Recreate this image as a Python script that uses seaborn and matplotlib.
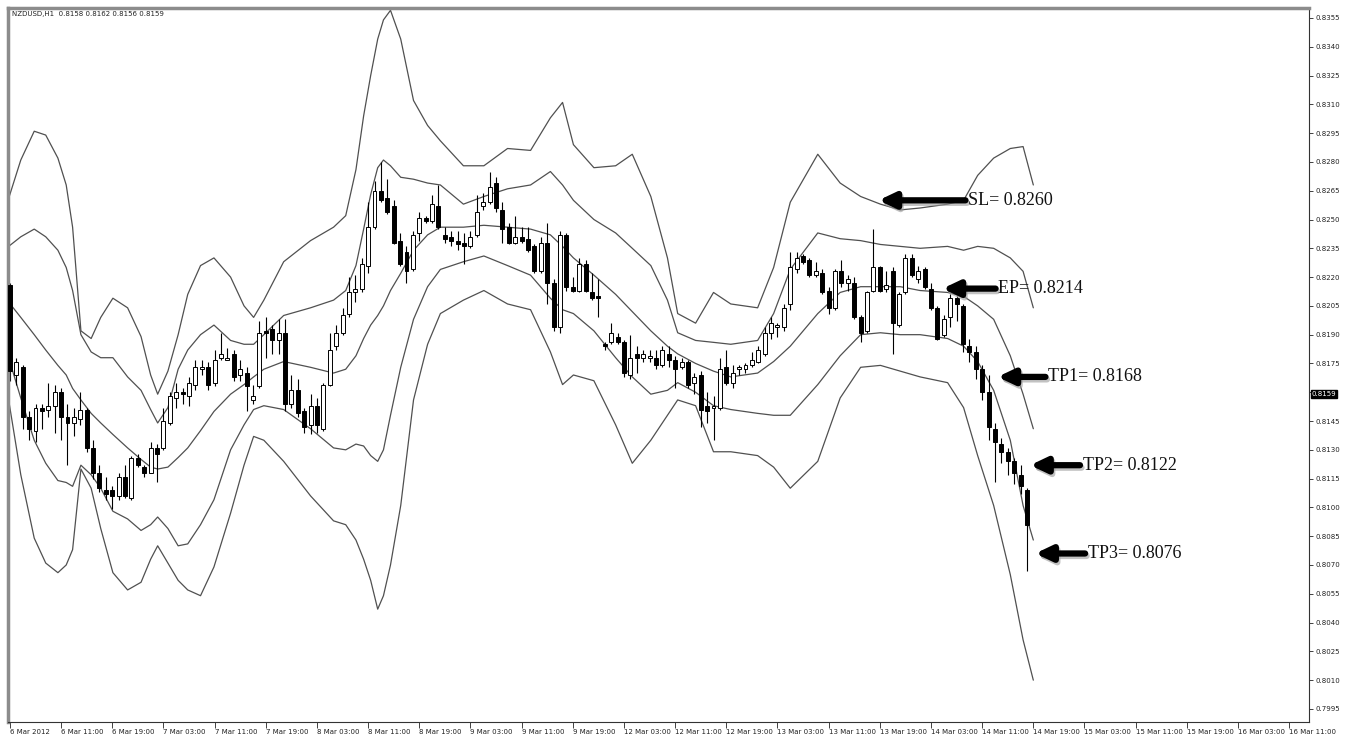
import matplotlib
matplotlib.use("Agg")
import matplotlib.pyplot as plt
import matplotlib.transforms as mtransforms
import numpy as np
import pandas as pd
import seaborn as sns

sns.set_theme(style="white")
plt.rcParams["font.family"] = ["DejaVu Sans"]

symbol_title = "NZDUSD,H1  0.8158 0.8162 0.8156 0.8159"
last_price = 0.8159

# one label every 8 hourly bars, starting at bar 0
time_labels = [
    "6 Mar 2012", "6 Mar 11:00", "6 Mar 19:00", "7 Mar 03:00", "7 Mar 11:00",
    "7 Mar 19:00", "8 Mar 03:00", "8 Mar 11:00", "8 Mar 19:00", "9 Mar 03:00",
    "9 Mar 11:00", "9 Mar 19:00", "12 Mar 03:00", "12 Mar 11:00", "12 Mar 19:00",
    "13 Mar 03:00", "13 Mar 11:00", "13 Mar 19:00", "14 Mar 03:00", "14 Mar 11:00",
    "14 Mar 19:00", "15 Mar 03:00", "15 Mar 11:00", "15 Mar 19:00", "16 Mar 03:00",
    "16 Mar 11:00",
]

opens = [
    0.8216, 0.8169, 0.8173, 0.8147, 0.8140, 0.8152, 0.8151, 0.8153, 0.8160, 0.8147,
    0.8144, 0.8146, 0.8151, 0.8131, 0.8118, 0.8109, 0.8109, 0.8106, 0.8116, 0.8105,
    0.8126, 0.8121, 0.8118, 0.8131, 0.8131, 0.8144, 0.8157, 0.8160, 0.8158, 0.8164,
    0.8172, 0.8173, 0.8165, 0.8178, 0.8177, 0.8180, 0.8169, 0.8170, 0.8156, 0.8163,
    0.8192, 0.8193, 0.8187, 0.8191, 0.8154, 0.8161, 0.8150, 0.8143, 0.8153, 0.8141,
    0.8164, 0.8184, 0.8191, 0.8201, 0.8212, 0.8214, 0.8226, 0.8246, 0.8265, 0.8261,
    0.8257, 0.8239, 0.8233, 0.8224, 0.8243, 0.8251, 0.8249, 0.8257, 0.8242, 0.8241,
    0.8239, 0.8238, 0.8236, 0.8242, 0.8257, 0.8259, 0.8269, 0.8255, 0.8246, 0.8238,
    0.8241, 0.8240, 0.8236, 0.8223, 0.8238, 0.8217, 0.8194, 0.8242, 0.8215, 0.8213,
    0.8227, 0.8212, 0.8210, 0.8185, 0.8186, 0.8189, 0.8186, 0.8169, 0.8180, 0.8178,
    0.8178, 0.8178, 0.8174, 0.8180, 0.8177, 0.8173, 0.8176, 0.8165, 0.8169, 0.8153,
    0.8152, 0.8152, 0.8173, 0.8165, 0.8172, 0.8172, 0.8174, 0.8176, 0.8180, 0.8191,
    0.8194, 0.8194, 0.8206, 0.8224, 0.8231, 0.8229, 0.8221, 0.8222, 0.8213, 0.8204,
    0.8223, 0.8217, 0.8217, 0.8199, 0.8192, 0.8213, 0.8225, 0.8214, 0.8223, 0.8195,
    0.8212, 0.8230, 0.8219, 0.8224, 0.8214, 0.8204, 0.8190, 0.8199, 0.8209, 0.8205,
    0.8184, 0.8181, 0.8172, 0.8160, 0.8141, 0.8133, 0.8129, 0.8124, 0.8117, 0.8109,
]
highs = [
    0.8217, 0.8178, 0.8174, 0.8150, 0.8154, 0.8154, 0.8165, 0.8164, 0.8162, 0.8154,
    0.8152, 0.8160, 0.8152, 0.8135, 0.8122, 0.8116, 0.8111, 0.8118, 0.8122, 0.8127,
    0.8128, 0.8122, 0.8134, 0.8133, 0.8152, 0.8160, 0.8165, 0.8162, 0.8168, 0.8177,
    0.8177, 0.8176, 0.8182, 0.8191, 0.8183, 0.8182, 0.8177, 0.8173, 0.8164, 0.8197,
    0.8199, 0.8195, 0.8198, 0.8198, 0.8169, 0.8167, 0.8152, 0.8159, 0.8157, 0.8165,
    0.8191, 0.8195, 0.8204, 0.8220, 0.8221, 0.8230, 0.8259, 0.8270, 0.8280, 0.8271,
    0.8260, 0.8243, 0.8236, 0.8244, 0.8254, 0.8252, 0.8263, 0.8268, 0.8246, 0.8244,
    0.8244, 0.8243, 0.8244, 0.8263, 0.8264, 0.8275, 0.8272, 0.8259, 0.8248, 0.8252,
    0.8246, 0.8246, 0.8237, 0.8241, 0.8248, 0.8219, 0.8244, 0.8243, 0.8220, 0.8230,
    0.8229, 0.8222, 0.8219, 0.8186, 0.8196, 0.8191, 0.8187, 0.8190, 0.8184, 0.8182,
    0.8182, 0.8182, 0.8184, 0.8184, 0.8179, 0.8178, 0.8177, 0.8170, 0.8171, 0.8160,
    0.8158, 0.8178, 0.8182, 0.8174, 0.8174, 0.8175, 0.8181, 0.8184, 0.8194, 0.8199,
    0.8196, 0.8206, 0.8233, 0.8233, 0.8232, 0.8230, 0.8228, 0.8224, 0.8215, 0.8224,
    0.8229, 0.8221, 0.8220, 0.8200, 0.8213, 0.8245, 0.8226, 0.8223, 0.8225, 0.8212,
    0.8232, 0.8232, 0.8226, 0.8225, 0.8217, 0.8205, 0.8200, 0.8211, 0.8210, 0.8206,
    0.8188, 0.8184, 0.8174, 0.8169, 0.8144, 0.8136, 0.8131, 0.8126, 0.8122, 0.8110,
]
lows = [
    0.8166, 0.8164, 0.8141, 0.8135, 0.8134, 0.8141, 0.8147, 0.8139, 0.8135, 0.8122,
    0.8137, 0.8143, 0.8129, 0.8115, 0.8108, 0.8104, 0.8099, 0.8104, 0.8105, 0.8104,
    0.8121, 0.8116, 0.8118, 0.8113, 0.8130, 0.8143, 0.8152, 0.8154, 0.8153, 0.8161,
    0.8169, 0.8161, 0.8163, 0.8177, 0.8177, 0.8166, 0.8166, 0.8150, 0.8154, 0.8162,
    0.8178, 0.8180, 0.8180, 0.8150, 0.8152, 0.8147, 0.8139, 0.8138, 0.8139, 0.8140,
    0.8163, 0.8182, 0.8190, 0.8199, 0.8207, 0.8212, 0.8222, 0.8245, 0.8259, 0.8253,
    0.8237, 0.8226, 0.8217, 0.8223, 0.8239, 0.8248, 0.8248, 0.8245, 0.8238, 0.8236,
    0.8234, 0.8227, 0.8235, 0.8241, 0.8255, 0.8258, 0.8254, 0.8238, 0.8237, 0.8237,
    0.8238, 0.8233, 0.8222, 0.8222, 0.8206, 0.8192, 0.8191, 0.8213, 0.8212, 0.8212,
    0.8212, 0.8208, 0.8199, 0.8182, 0.8185, 0.8185, 0.8168, 0.8167, 0.8170, 0.8176,
    0.8176, 0.8172, 0.8173, 0.8173, 0.8162, 0.8172, 0.8162, 0.8159, 0.8142, 0.8144,
    0.8135, 0.8151, 0.8164, 0.8162, 0.8169, 0.8170, 0.8173, 0.8175, 0.8179, 0.8188,
    0.8189, 0.8192, 0.8203, 0.8222, 0.8227, 0.8220, 0.8220, 0.8211, 0.8201, 0.8203,
    0.8215, 0.8213, 0.8198, 0.8186, 0.8191, 0.8212, 0.8212, 0.8212, 0.8180, 0.8194,
    0.8211, 0.8220, 0.8217, 0.8214, 0.8203, 0.8187, 0.8189, 0.8194, 0.8197, 0.8181,
    0.8176, 0.8167, 0.8156, 0.8135, 0.8113, 0.8123, 0.8117, 0.8112, 0.8107, 0.8067,
]
closes = [
    0.8171, 0.8176, 0.8147, 0.8141, 0.8152, 0.8150, 0.8153, 0.8160, 0.8147, 0.8144,
    0.8147, 0.8151, 0.8131, 0.8118, 0.8110, 0.8107, 0.8106, 0.8116, 0.8106, 0.8126,
    0.8122, 0.8118, 0.8131, 0.8128, 0.8145, 0.8158, 0.8160, 0.8159, 0.8165, 0.8173,
    0.8173, 0.8164, 0.8177, 0.8180, 0.8178, 0.8168, 0.8172, 0.8163, 0.8158, 0.8191,
    0.8191, 0.8187, 0.8191, 0.8154, 0.8161, 0.8149, 0.8142, 0.8153, 0.8143, 0.8164,
    0.8182, 0.8191, 0.8200, 0.8212, 0.8214, 0.8227, 0.8246, 0.8265, 0.8260, 0.8254,
    0.8238, 0.8227, 0.8223, 0.8242, 0.8251, 0.8249, 0.8258, 0.8246, 0.8240, 0.8239,
    0.8237, 0.8236, 0.8241, 0.8254, 0.8259, 0.8267, 0.8256, 0.8245, 0.8238, 0.8241,
    0.8239, 0.8234, 0.8223, 0.8238, 0.8217, 0.8194, 0.8242, 0.8215, 0.8213, 0.8227,
    0.8213, 0.8209, 0.8209, 0.8184, 0.8191, 0.8186, 0.8170, 0.8178, 0.8178, 0.8180,
    0.8179, 0.8174, 0.8182, 0.8177, 0.8172, 0.8176, 0.8164, 0.8168, 0.8151, 0.8150,
    0.8153, 0.8172, 0.8165, 0.8170, 0.8173, 0.8174, 0.8177, 0.8182, 0.8191, 0.8196,
    0.8195, 0.8204, 0.8225, 0.8230, 0.8228, 0.8221, 0.8223, 0.8212, 0.8204, 0.8223,
    0.8217, 0.8219, 0.8199, 0.8191, 0.8212, 0.8225, 0.8213, 0.8216, 0.8196, 0.8211,
    0.8230, 0.8221, 0.8223, 0.8215, 0.8204, 0.8188, 0.8198, 0.8209, 0.8206, 0.8185,
    0.8181, 0.8172, 0.8160, 0.8142, 0.8134, 0.8129, 0.8124, 0.8118, 0.8111, 0.8091,
]

# envelope lines, read at these bar positions
band_bars = [
    -0.2, 1.7, 3.8, 5.6, 7.5, 8.8, 9.8, 11.1, 12.7, 14.2,
    16.1, 18.4, 20.5, 22.0, 23.1, 24.7, 26.3, 27.8, 29.8, 31.9,
    34.5, 36.6, 38.1, 39.7, 42.8, 47.0, 50.6, 52.5, 54.1, 55.3,
    56.4, 57.5, 58.4, 59.5, 61.1, 63.1, 65.3, 67.3, 70.9, 74.1,
    77.8, 81.4, 84.5, 86.4, 88.1, 91.3, 94.7, 97.3, 100.2, 102.8,
    104.4, 107.2, 110.0, 112.7, 116.9, 119.4, 122.0, 126.3, 129.8, 133.0,
    136.1, 139.2, 142.3, 146.6, 149.1, 151.3, 153.8, 156.4, 158.4, 160.0,
]
upper_outer = [
    0.8261, 0.8281, 0.8296, 0.8294, 0.8282, 0.8268, 0.8246, 0.8192, 0.8188, 0.8199,
    0.8209, 0.8204, 0.8189, 0.8169, 0.8159, 0.8171, 0.8190, 0.8211, 0.8226, 0.8230,
    0.8220, 0.8205, 0.8199, 0.8208, 0.8228, 0.8239, 0.8246, 0.8252, 0.8276, 0.8304,
    0.8325, 0.8344, 0.8354, 0.8359, 0.8344, 0.8312, 0.8299, 0.8291, 0.8278, 0.8278,
    0.8287, 0.8286, 0.8303, 0.8311, 0.8289, 0.8277, 0.8278, 0.8284, 0.8262, 0.8230,
    0.8201, 0.8196, 0.8212, 0.8206, 0.8204, 0.8225, 0.8259, 0.8284, 0.8269, 0.8262,
    0.8258, 0.8255, 0.8256, 0.8258, 0.8260, 0.8273, 0.8282, 0.8287, 0.8288, 0.8268,
]
upper_inner = [
    0.8236, 0.8241, 0.8245, 0.8241, 0.8234, 0.8225, 0.8213, 0.8190, 0.8181, 0.8178,
    0.8178, 0.8168, 0.8161, 0.8151, 0.8144, 0.8152, 0.8172, 0.8182, 0.8190, 0.8195,
    0.8187, 0.8185, 0.8185, 0.8190, 0.8200, 0.8204, 0.8208, 0.8213, 0.8226, 0.8245,
    0.8263, 0.8277, 0.8281, 0.8278, 0.8272, 0.8271, 0.8269, 0.8268, 0.8258, 0.8262,
    0.8266, 0.8268, 0.8275, 0.8268, 0.8260, 0.8250, 0.8243, 0.8235, 0.8226, 0.8208,
    0.8191, 0.8187, 0.8186, 0.8185, 0.8187, 0.8201, 0.8224, 0.8243, 0.8240, 0.8239,
    0.8237, 0.8236, 0.8235, 0.8236, 0.8234, 0.8236, 0.8235, 0.8230, 0.8223, 0.8204,
]
middle = [
    0.8207, 0.8199, 0.8190, 0.8182, 0.8174, 0.8169, 0.8162, 0.8156, 0.8149, 0.8144,
    0.8138, 0.8131, 0.8125, 0.8121, 0.8120, 0.8121, 0.8126, 0.8131, 0.8140, 0.8150,
    0.8159, 0.8164, 0.8168, 0.8172, 0.8176, 0.8173, 0.8170, 0.8172, 0.8179, 0.8188,
    0.8195, 0.8200, 0.8205, 0.8213, 0.8222, 0.8234, 0.8242, 0.8246, 0.8246, 0.8247,
    0.8246, 0.8245, 0.8242, 0.8236, 0.8230, 0.8221, 0.8211, 0.8202, 0.8192, 0.8184,
    0.8180, 0.8175, 0.8171, 0.8168, 0.8170, 0.8176, 0.8184, 0.8201, 0.8212, 0.8215,
    0.8215, 0.8215, 0.8213, 0.8212, 0.8210, 0.8205, 0.8198, 0.8179, 0.8159, 0.8141,
]
lower_inner = [
    0.8178, 0.8157, 0.8135, 0.8123, 0.8114, 0.8113, 0.8111, 0.8122, 0.8117, 0.8110,
    0.8098, 0.8094, 0.8088, 0.8091, 0.8095, 0.8089, 0.8080, 0.8081, 0.8091, 0.8104,
    0.8130, 0.8143, 0.8151, 0.8153, 0.8151, 0.8141, 0.8131, 0.8130, 0.8133, 0.8132,
    0.8127, 0.8124, 0.8130, 0.8148, 0.8173, 0.8198, 0.8215, 0.8224, 0.8228, 0.8231,
    0.8226, 0.8221, 0.8209, 0.8203, 0.8201, 0.8192, 0.8178, 0.8168, 0.8159, 0.8161,
    0.8165, 0.8160, 0.8153, 0.8151, 0.8149, 0.8148, 0.8148, 0.8164, 0.8179, 0.8190,
    0.8191, 0.8190, 0.8190, 0.8188, 0.8184, 0.8176, 0.8161, 0.8135, 0.8101, 0.8083,
]
lower_outer = [
    0.8156, 0.8117, 0.8084, 0.8071, 0.8066, 0.8070, 0.8078, 0.8120, 0.8110, 0.8089,
    0.8066, 0.8057, 0.8061, 0.8073, 0.8080, 0.8071, 0.8062, 0.8057, 0.8054, 0.8069,
    0.8097, 0.8122, 0.8137, 0.8135, 0.8124, 0.8106, 0.8093, 0.8091, 0.8083, 0.8073,
    0.8062, 0.8047, 0.8054, 0.8070, 0.8101, 0.8156, 0.8185, 0.8201, 0.8208, 0.8213,
    0.8206, 0.8203, 0.8181, 0.8164, 0.8169, 0.8166, 0.8143, 0.8123, 0.8135, 0.8148,
    0.8156, 0.8153, 0.8129, 0.8129, 0.8127, 0.8121, 0.8110, 0.8124, 0.8157, 0.8173,
    0.8174, 0.8171, 0.8168, 0.8165, 0.8152, 0.8127, 0.8101, 0.8065, 0.8031, 0.8010,
]

level_names = ["SL", "EP", "TP1", "TP2", "TP3"]
level_values = [0.8260, 0.8214, 0.8168, 0.8122, 0.8076]
arrow_heads = [135.8, 145.8, 154.4, 159.5, 160.3]
arrow_tails = [149.4, 154.1, 161.9, 167.3, 168.1]


def candle_frame() -> pd.DataFrame:
    df = pd.DataFrame({"open": opens, "high": highs, "low": lows, "close": closes})
    df["bar"] = np.arange(len(df))
    df["bull"] = df["close"] >= df["open"]
    df["body_low"] = df[["open", "close"]].min(axis=1)
    df["body_h"] = (df["close"] - df["open"]).abs().clip(lower=0.00004)
    return df


def band_frame() -> pd.DataFrame:
    lines = {
        "upper_outer": upper_outer,
        "upper_inner": upper_inner,
        "middle": middle,
        "lower_inner": lower_inner,
        "lower_outer": lower_outer,
    }
    parts = [pd.DataFrame({"bar": band_bars, "price": vals, "band": name}) for name, vals in lines.items()]
    return pd.concat(parts, ignore_index=True)


fig = plt.figure(figsize=(13.54, 7.34), dpi=100)
fig.patch.set_facecolor("white")
ax = fig.add_axes([8 / 1354, 12 / 734, 1301 / 1354, 714 / 734])
ax.set_facecolor("white")

bands = band_frame()
sns.lineplot(data=bands, x="bar", y="price", units="band", estimator=None, sort=False,
             color="#505050", linewidth=0.9, ax=ax, zorder=1)

candles = candle_frame()
ax.vlines(candles["bar"], candles["low"], candles["high"], colors="black", linewidth=0.8, zorder=2)
ax.bar(candles["bar"], candles["body_h"], bottom=candles["body_low"], width=0.62,
       color=np.where(candles["bull"], "white", "black"), edgecolor="black", linewidth=0.7, zorder=3)

# trade levels: thick arrows with a soft shadow
shadow = mtransforms.offset_copy(ax.transData, fig=fig, x=1.5, y=-2.5, units="dots")
for name, value, head, tail in zip(level_names, level_values, arrow_heads, arrow_tails):
    style = dict(arrowstyle="-|>,head_length=0.8,head_width=0.38", lw=4.5, shrinkA=0, shrinkB=0)
    ax.annotate("", xy=(head, value), xytext=(tail, value), xycoords=shadow, textcoords=shadow,
                arrowprops=dict(color="#9a9a9a", alpha=0.6, **style), zorder=4)
    ax.annotate("", xy=(head, value), xytext=(tail, value),
                arrowprops=dict(color="black", **style), zorder=5)
    ax.text(tail + 0.4, value, f"{name}= {value:.4f}", va="center", ha="left",
            fontsize=13, family=["Liberation Serif", "DejaVu Serif"], color="#111111", zorder=6)

ax.set_xlim(-0.3, 203.1)
ax.set_ylim(0.79882, 0.83602)

# the 0.8160 label sits under the current-price box, as in the terminal
price_ticks = np.round(np.arange(0.7995, 0.83551, 0.0015), 4)
ax.yaxis.tick_right()
ax.set_yticks(price_ticks)
ax.set_yticklabels(["" if abs(p - 0.8160) < 1e-6 else f"{p:.4f}" for p in price_ticks])
ax.tick_params(axis="y", direction="out", length=3, width=0.6, labelsize=5, pad=2,
               colors="#222222", right=True, left=False)

ax.set_xticks(np.arange(len(time_labels)) * 8)
ax.set_xticklabels(time_labels, ha="left")
ax.tick_params(axis="x", direction="out", length=4, width=0.6, labelsize=5, pad=1,
               colors="#222222", bottom=True)
ax.set_xlabel("")
ax.set_ylabel("")
ax.grid(False)

for side in ["left", "top"]:
    ax.spines[side].set_color("#8c8c8c")
    ax.spines[side].set_linewidth(2.5)
for side in ["right", "bottom"]:
    ax.spines[side].set_color("#333333")
    ax.spines[side].set_linewidth(0.8)

ax.text(0.003, 0.9916, symbol_title, transform=ax.transAxes, fontsize=5, va="center",
        ha="left", color="#222222")

price_tf = mtransforms.blended_transform_factory(ax.transAxes, ax.transData)
ax.text(1.002, last_price, f"{last_price:.4f}", transform=price_tf, fontsize=5, va="center",
        ha="left", color="white",
        bbox=dict(boxstyle="square,pad=0.15", facecolor="black", edgecolor="black"))

fig.savefig("out.png", dpi=100, facecolor="white")
plt.close(fig)
